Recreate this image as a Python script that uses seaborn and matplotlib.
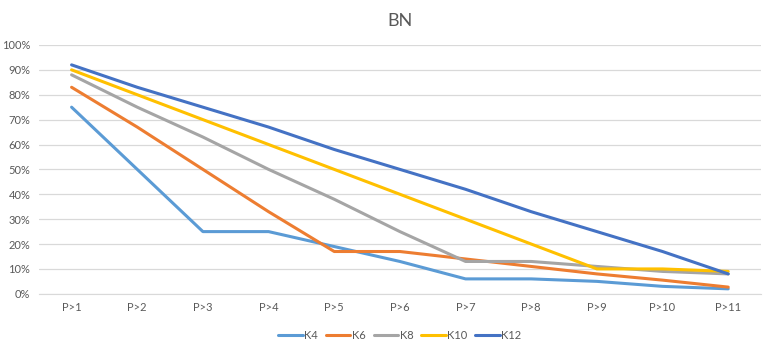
import pandas as pd
import seaborn as sns
import matplotlib.pyplot as plt
from matplotlib.ticker import PercentFormatter

categorias = ['P>1', 'P>2', 'P>3', 'P>4', 'P>5', 'P>6', 'P>7', 'P>8', 'P>9', 'P>10', 'P>11']
k4 = [0.75, 0.50, 0.25, 0.25, 0.19, 0.13, 0.06, 0.06, 0.05, 0.03, 0.02]
k6 = [0.83, 0.67, 0.50, 0.33, 0.17, 0.17, 0.14, 0.11, 0.08, 0.055, 0.027]
k8 = [0.88, 0.75, 0.63, 0.50, 0.38, 0.25, 0.13, 0.13, 0.11, 0.09, 0.08]
k10 = [0.90, 0.80, 0.70, 0.60, 0.50, 0.40, 0.30, 0.20, 0.10, 0.10, 0.09]
k12 = [0.92, 0.83, 0.75, 0.67, 0.58, 0.50, 0.42, 0.33, 0.25, 0.17, 0.08]
series = ['K4', 'K6', 'K8', 'K10', 'K12']
cores = ['#5B9BD5', '#ED7D31', '#A5A5A5', '#FFC000', '#4472C4']

df = pd.DataFrame({'P': categorias, 'K4': k4, 'K6': k6, 'K8': k8, 'K10': k10, 'K12': k12})
df = df.melt(id_vars='P', var_name='serie', value_name='valor')

sns.set_style('white')
plt.rcParams['font.family'] = ['Lato', 'DejaVu Sans']

fig = plt.figure(figsize=(7.75, 3.54), dpi=100)
ax = fig.add_axes([0.05, 0.17, 0.932, 0.703])

sns.lineplot(data=df, x='P', y='valor', hue='serie', hue_order=series,
             palette=cores, linewidth=2.2, sort=False, ax=ax)

ax.set_xlim(-0.5, len(categorias) - 0.5)
ax.set_ylim(0, 1)
ax.set_yticks([i / 10 for i in range(11)])
ax.yaxis.set_major_formatter(PercentFormatter(1.0, decimals=0))
ax.grid(axis='y', color='#D9D9D9', linewidth=0.9)
ax.grid(axis='x', visible=False)
for s in ax.spines.values():
    s.set_visible(False)
ax.spines['bottom'].set_visible(True)
ax.spines['bottom'].set_color('#D9D9D9')
ax.tick_params(axis='both', length=0, labelsize=8, labelcolor='#595959', pad=6)
ax.set_xlabel('')
ax.set_ylabel('')
ax.set_title('BN', fontsize=13, color='#595959', pad=14)

ax.legend(loc='upper center', bbox_to_anchor=(0.5, -0.105), ncol=5, frameon=False,
          fontsize=8, handlelength=2.2, handletextpad=0.15, columnspacing=0.7,
          labelcolor='#595959')

plt.savefig('out.png', dpi=100)
